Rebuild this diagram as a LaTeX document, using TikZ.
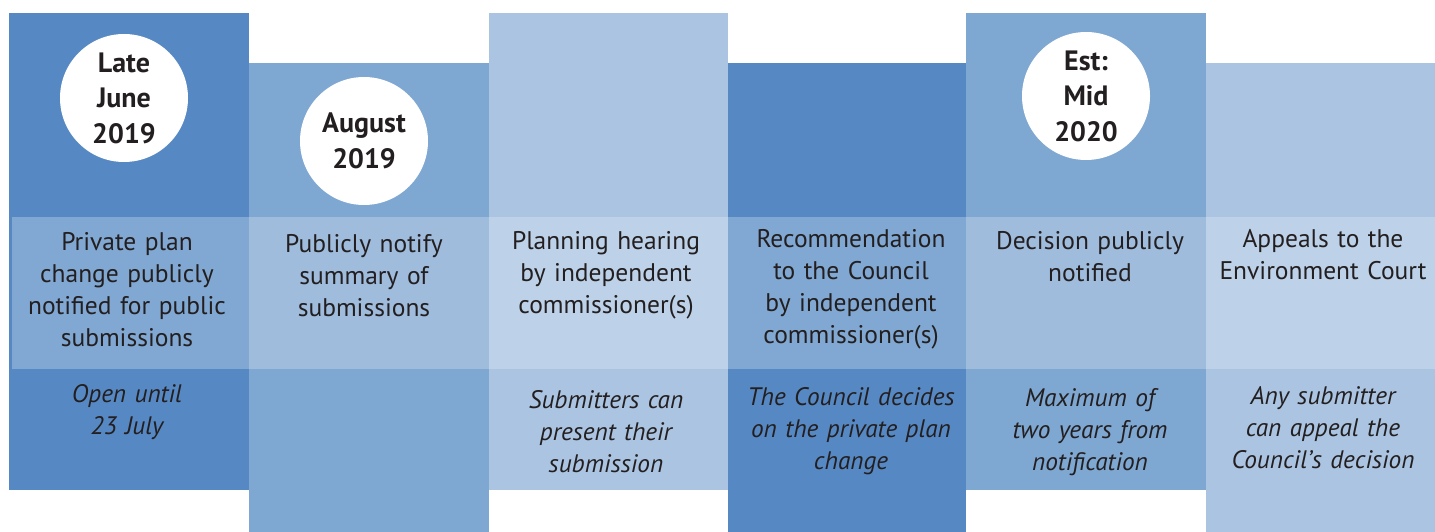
\documentclass[tikz,border=0pt]{standalone}
\usepackage{fontspec}
\setmainfont{PT Sans}
\definecolor{darkC}{HTML}{5689C3}
\definecolor{darkB}{HTML}{80A8D2}
\definecolor{midC}{HTML}{7EA7D1}
\definecolor{midB}{HTML}{9FBCDD}
\definecolor{lightC}{HTML}{AAC4E1}
\definecolor{lightB}{HTML}{BDD2E8}
\definecolor{ink}{HTML}{231F20}
\tikzset{
  dot/.style={circle, fill=white, minimum size=128pt, inner sep=0pt},
  datetxt/.style={text=ink, align=center, font=\fontsize{28}{35.5}\selectfont\bfseries},
  steptxt/.style={text=ink, align=center, anchor=north, text width=236pt, inner sep=0pt,
    font=\fontsize{25.5}{32}\selectfont},
  notetxt/.style={text=ink, align=center, anchor=north, text width=236pt, inner sep=0pt,
    font=\fontsize{25.3}{32}\selectfont\itshape},
}
\begin{document}
\begin{tikzpicture}[x=1pt,y=-1pt]
\useasboundingbox (0,0) rectangle (1435,532);
\fill[white] (0,0) rectangle (1435,532);
% columns
\fill[darkC]  (9,13)   rectangle (249,490);
\fill[midC]   (249,63) rectangle (489,532);
\fill[lightC] (489,13) rectangle (728,490);
\fill[darkC]  (728,63) rectangle (966,532);
\fill[midC]   (966,13) rectangle (1206,490);
\fill[lightC] (1206,63) rectangle (1435,532);
% band
\fill[darkB]  (12,217)  rectangle (249,369);
\fill[midB]   (249,217) rectangle (489,369);
\fill[lightB] (489,217) rectangle (728,369);
\fill[darkB]  (728,217) rectangle (966,369);
\fill[midB]   (966,217) rectangle (1206,369);
\fill[lightB] (1206,217) rectangle (1435,369);
% circles
\node[dot] (d1) at (124,98) {};
\node[dot] (d2) at (364,141) {};
\node[dot] (d5) at (1086,96) {};
\node[datetxt] (t1) at (d1) {Late\\June\\2019};
\node[datetxt] (t2) at (d2) {August\\2019};
\node[datetxt] (t5) at (d5) {Est:\\Mid\\2020};
% step texts
\node[steptxt] (s1) at (127,232) {Private plan\\change publicly\\notified for public\\submissions};
\node[steptxt] (s2) at (364,234) {Publicly notify\\summary of\\submissions};
\node[steptxt] (s3) at (606,231) {Planning hearing\\by independent\\commissioner(s)};
\node[steptxt] (s4) at (851,229) {Recommendation\\to the Council\\by independent\\commissioner(s)};
\node[steptxt] (s5) at (1090,231) {Decision publicly\\notified};
\node[steptxt] (s6) at (1323,229) {Appeals to the\\Environment Court};
% notes
\node[notetxt] (n1) at (127,384) {Open until\\23 July};
\node[notetxt] (n3) at (606,390) {Submitters can\\present their\\submission};
\node[notetxt] (n4) at (851,387) {The Council decides\\on the private plan\\change};
\node[notetxt] (n5) at (1090,388) {Maximum of\\two years from\\notification};
\node[notetxt] (n6) at (1323,386) {Any submitter\\can appeal the\\Council's decision};
\end{tikzpicture}
\end{document}
